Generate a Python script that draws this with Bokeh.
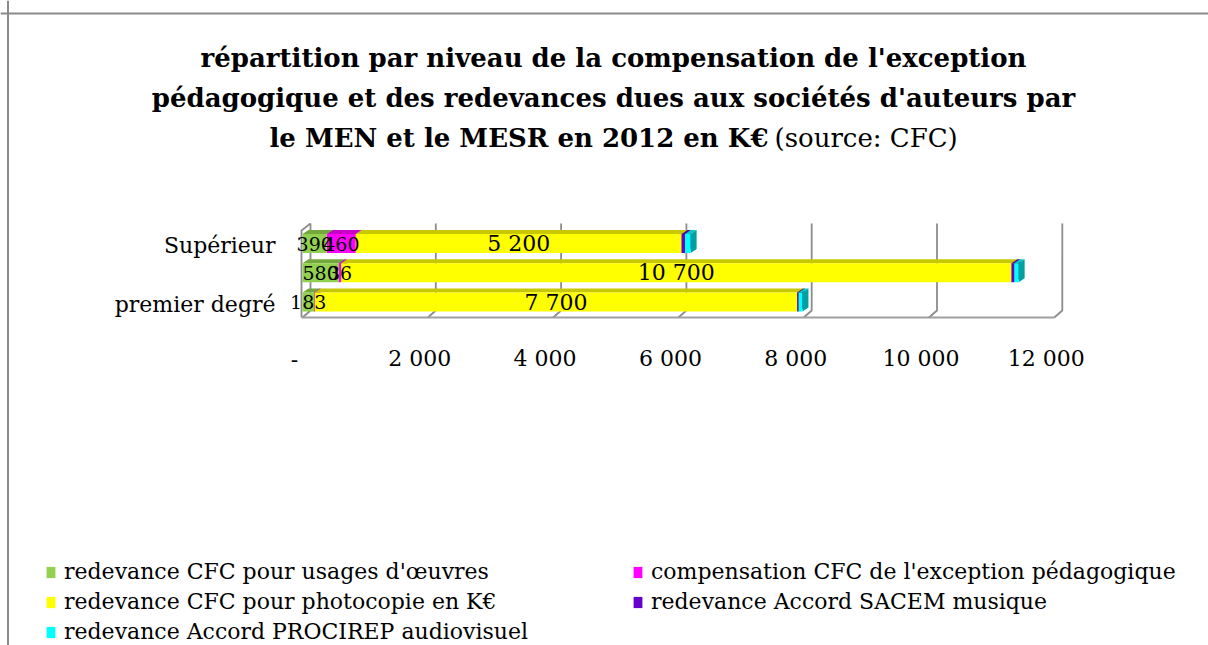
from bokeh.plotting import figure
from bokeh.models import Range1d, Legend, LegendItem, Span, ColumnDataSource
from bokeh.core.properties import value
from bokeh.embed import file_html
from bokeh.resources import INLINE

# ---------------- data ----------------
categories = ["premier degré", "second degré", "Supérieur"]
axis_labels = ["premier degré", "", "Supérieur"]
series_names = [
    "redevance CFC pour usages d'œuvres",
    "compensation CFC de l'exception pédagogique",
    "redevance CFC pour photocopie en K€",
    "redevance Accord SACEM musique",
    "redevance Accord PROCIREP audiovisuel",
]
usages_oeuvres = [183, 580, 390]
exception_pedago = [12, 36, 460]
photocopie = [7700, 10700, 5200]
sacem = [25, 45, 55]
procirep = [60, 70, 90]
series_values = [usages_oeuvres, exception_pedago, photocopie, sacem, procirep]
x_ticks = [0, 2000, 4000, 6000, 8000, 10000, 12000]
x_tick_labels = ["-", "2 000", "4 000", "6 000", "8 000", "10 000", "12 000"]
title_lines = [
    "répartition par niveau de la compensation de l'exception",
    "pédagogique et des redevances dues aux sociétés d'auteurs par",
    "le MEN et le MESR en 2012 en K€",
]
title_source = "(source: CFC)"

# ---------------- styles ----------------
front_colors = ["#92D050", "#FF00FF", "#FFFF00", "#6600CC", "#00FFFF"]
top_colors = ["#74A83C", "#C800C8", "#C8C800", "#5000A0", "#00C8C8"]
end_colors = ["#6A9A36", "#B000B0", "#B0B000", "#44008A", "#00A0A0"]
label_sizes = ["19px", "19px", "22px", None, None]
FONT = value("DejaVu Serif")

W, H = 1208, 645
PAGE_MARGIN = 0
X0_PX = 302.0      # page x of value 0 (front face)
Y0_PX = 301.5      # page y of first category centre
KX = 125.3 / 2000  # px per K€
KY = 29.25         # px per category


def X(px):
    return (px - X0_PX) / KX


def Y(py):
    return (Y0_PX - py) / KY


def DX(px):
    return px / KX


def DY(px):
    return px / KY


p = figure(width=W, height=H, output_backend="svg", toolbar_location=None,
           x_range=Range1d(X(PAGE_MARGIN), X(PAGE_MARGIN + W)),
           y_range=Range1d(Y(PAGE_MARGIN + H), Y(PAGE_MARGIN)),
           x_axis_type=None, y_axis_type=None, min_border=0)
p.grid.visible = False
p.outline_line_color = None
p.background_fill_color = "white"
p.border_fill_color = "white"

# outer chart border (left and top)
p.add_layout(Span(location=X(7.5), dimension="height", line_color="#8a8a8a", line_width=2))
p.add_layout(Span(location=Y(13), dimension="width", line_color="#8a8a8a", line_width=2))

# ---------------- 3D walls / gridlines ----------------
back_dx, back_dy = 8, 7
wall_top, floor_front = 223, 317
gx, gy = [], []
for t in x_ticks:
    xb = t + DX(back_dx)
    gx.append([xb, xb, t])
    gy.append([Y(wall_top), Y(floor_front - back_dy), Y(floor_front)])
gx.append([x_ticks[0] - DX(1), x_ticks[0] - DX(1), x_ticks[0] + DX(back_dx)])
gy.append([Y(floor_front), Y(wall_top + back_dy), Y(wall_top)])
p.multi_line(gx, gy, line_color="#8c8c8c", line_width=1.8)
p.line([x_ticks[0] - DX(1), x_ticks[-1]], [Y(floor_front), Y(floor_front)],
       line_color="#a0a0a0", line_width=2)

# ---------------- bars ----------------
ypos = list(range(len(categories)))
bar_h = DY(19)
dx, dy = DX(6), DY(4)
left = [0.0] * len(categories)
front_renderers = []
pending_labels = []
for i, vals in enumerate(series_values):
    lefts = left[:]
    rights = [l + v for l, v in zip(lefts, vals)]
    tops_x, tops_y, ends_x, ends_y = [], [], [], []
    for y, l, r in zip(ypos, lefts, rights):
        yt, yb = y + bar_h / 2, y - bar_h / 2
        tops_x.append([l, r, r + dx, l + dx])
        tops_y.append([yt, yt, yt + dy, yt + dy])
        ends_x.append([r, r + dx, r + dx, r])
        ends_y.append([yb, yb + dy, yt + dy, yt])
    p.patches(tops_x, tops_y, fill_color=top_colors[i], line_color=None)
    p.patches(ends_x, ends_y, fill_color=end_colors[i], line_color=None)
    src = ColumnDataSource(dict(y=ypos, left=lefts, right=rights))
    r = p.hbar(y="y", left="left", right="right", height=bar_h, source=src,
               fill_color=front_colors[i], line_color=None)
    front_renderers.append(r)
    left = rights
    if label_sizes[i]:
        lx = [(l + rr) / 2 for l, rr, v in zip(lefts, rights, vals) if v >= 30]
        ly = [y for y, v in zip(ypos, vals) if v >= 30]
        lt = [f"{v:,}".replace(",", " ") for v in vals if v >= 30]
        pending_labels.append((lx, ly, lt, label_sizes[i]))

# data labels drawn on top of all bars
for lx, ly, lt, size in pending_labels:
    p.text(lx, ly, text=lt, text_font=FONT, text_font_size=size,
           text_align="center", text_baseline="middle", text_color="black")

# category labels
p.text([0] * len(categories), ypos, text=axis_labels, x_offset=-27, y_offset=2,
       text_font=FONT, text_font_size="22px", text_align="right",
       text_baseline="middle", text_color="black")

# value axis labels
p.text(x_ticks, [Y(358)] * len(x_ticks), text=x_tick_labels, x_offset=-8,
       text_font=FONT, text_font_size="22px", text_align="center",
       text_baseline="middle", text_color="black")

# ---------------- title ----------------
title_center = X(613)
for k, (line, base) in enumerate(zip(title_lines, [57, 97, 137])):
    if k < 2:
        p.text([title_center], [Y(base)], text=[line], text_font=FONT,
               text_font_style="bold", text_font_size="26px", text_align="center",
               text_baseline="alphabetic", text_color="black")
    else:
        p.text([X(768)], [Y(base)], text=[line], text_font=FONT,
               text_font_style="bold", text_font_size="26px", text_align="right",
               text_baseline="alphabetic", text_color="black")
        p.text([X(774)], [Y(base)], text=[title_source], text_font=FONT,
               text_font_size="26px", text_align="left",
               text_baseline="alphabetic", text_color="black")

# ---------------- legend ----------------
def make_legend(idx, loc):
    lg = Legend(items=[LegendItem(label=series_names[j], renderers=[front_renderers[j]]) for j in idx],
                location=loc, orientation="vertical",
                glyph_width=11, glyph_height=14, label_standoff=8,
                label_text_font="DejaVu Serif", label_text_font_size="22px",
                label_text_color="black",
                label_height=20, spacing=5, padding=0, margin=0,
                border_line_color=None, background_fill_alpha=0)
    p.add_layout(lg)


make_legend([0, 2, 4], (45, 1))
make_legend([1, 3], (632, 31))

open("out.html", "w").write(file_html(p, INLINE))
